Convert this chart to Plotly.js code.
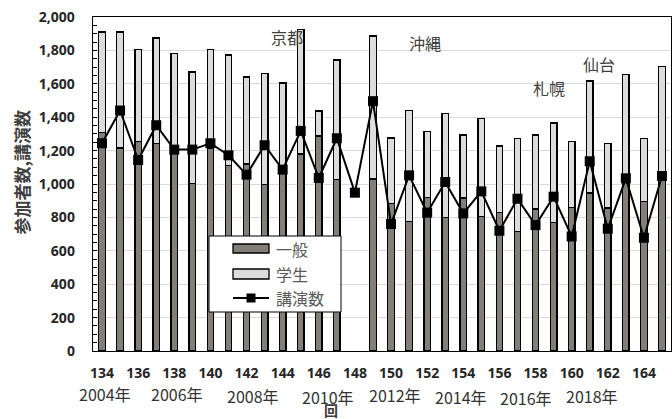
<!DOCTYPE html>
<html>
<head>
<meta charset="utf-8">
<script src="https://cdn.plot.ly/plotly-3.0.1.min.js"></script>
<style>html,body{margin:0;padding:0;background:#fff;}#chart{width:672px;height:419px;}</style>
</head>
<body>
<div id="chart"></div>
<script>
// ---- data ----
const sessions = [134,135,136,137,138,139,140,141,142,143,144,145,146,147,148,149,150,151,152,153,154,155,156,157,158,159,160,161,162,163,164,165];
const general  = [1310,1216,1254,1244,1190,1002,1214,1110,1120,996,1070,1180,1288,1028,null,1030,884,774,920,800,916,806,830,714,850,770,860,946,856,1020,896,1020];
const students = [600,694,552,630,592,668,590,662,520,664,534,744,150,714,null,856,392,666,396,624,378,588,398,560,444,596,396,670,388,634,376,682];
const lectures = [1244,1440,1144,1352,1206,1206,1244,1172,1056,1232,1086,1318,1036,1274,948,1496,760,1052,828,1012,824,956,720,912,754,924,686,1136,732,1034,678,1048];
const tickSessions = [134,136,138,140,142,144,146,148,150,152,154,156,158,160,162,164];
const yearLabels = ["2004年","2006年","2008年","2010年","2012年","2014年","2016年","2018年"];
const yearSessions = [134.17,138.17,142.37,146.5,150.2,153.85,157.45,161.15];
const venueLabels = ["京都","沖縄","札幌","仙台"];
const venueSessions = [144.23,151.87,158.77,161.5];
const venueHeights = [1882,1846,1573,1720];
const seriesNames = ["一般","学生","講演数"];
const yTitle = "参加者数,講演数";
const xTitle = "回";

// ---- layout geometry (pixels) ----
const L = 93, R = 1, T = 17, B = 68, Wd = 672, Ht = 419;
const PW = Wd - L - R, PH = Ht - T - B, PB = Ht - B;
const px = x => (x - L) / PW;
const py = y => (PB - y) / PH;
const yearShift = [-43,-43,-45,-46,-44,-46,-47,-45];

const JP = '"Noto Sans CJK JP", "Noto Sans", sans-serif';
const NUM = '"Noto Sans", "Open Sans", sans-serif';
const cGen = '#837e78', cStu = '#dcdcdc', cTxt = '#595959';

const traces = [
  {type:'bar', x:sessions, y:general, name:seriesNames[0], width:0.36,
   marker:{color:cGen, line:{color:'#000', width:1.3}}, showlegend:false, hoverinfo:'skip'},
  {type:'bar', x:sessions, y:students, name:seriesNames[1], width:0.36,
   marker:{color:cStu, line:{color:'#000', width:1.3}}, showlegend:false, hoverinfo:'skip'},
  {type:'scatter', mode:'lines+markers', x:sessions, y:lectures, name:seriesNames[2],
   line:{color:'#000', width:2}, marker:{symbol:'square', size:10, color:'#000'},
   showlegend:false, hoverinfo:'skip'}
];

const annotations = [];
venueLabels.forEach((t,i)=>annotations.push({x:venueSessions[i], y:venueHeights[i], xref:'x', yref:'y',
  text:t, showarrow:false, font:{family:JP, size:16, color:'#404040'}}));
yearLabels.forEach((t,i)=>annotations.push({x:yearSessions[i], y:0, xref:'x', yref:'paper',
  yanchor:'middle', yshift:yearShift[i], text:t, showarrow:false, borderpad:0,
  font:{family:JP, size:16, color:'#333'}}));
annotations.push({x:146.67, y:0, xref:'x', yref:'paper', yanchor:'middle', yshift:-59, borderpad:0,
  text:'<b>'+xTitle+'</b>', showarrow:false, font:{family:JP, size:14, color:'#404040'}});
annotations.push({x:0, y:py(172.5), xref:'paper', yref:'paper', xanchor:'center', yanchor:'middle',
  xshift:-(L-21), textangle:-90,
  text:'<b>'+yTitle+'</b>', showarrow:false, font:{family:JP, size:17, color:'#404040'}});

// manual legend
const shapes = [
  {type:'rect', xref:'paper', yref:'paper', x0:px(209), x1:px(341), y0:py(312), y1:py(236),
   fillcolor:'#fff', line:{color:'#000', width:1}, layer:'above'},
  {type:'rect', xref:'paper', yref:'paper', x0:px(233), x1:px(269), y0:py(253), y1:py(244),
   fillcolor:cGen, line:{color:'#000', width:1.3}, layer:'above'},
  {type:'rect', xref:'paper', yref:'paper', x0:px(233), x1:px(269), y0:py(279), y1:py(269),
   fillcolor:cStu, line:{color:'#000', width:1.3}, layer:'above'},
  {type:'line', xref:'paper', yref:'paper', x0:px(233), x1:px(269), y0:py(298), y1:py(298),
   line:{color:'#000', width:2}, layer:'above'},
  {type:'rect', xref:'paper', yref:'paper', x0:px(246.5), x1:px(255.5), y0:py(302.5), y1:py(293.5),
   fillcolor:'#000', line:{color:'#000', width:0}, layer:'above'}
];
const legY = [249, 274, 298];
seriesNames.forEach((t,i)=>annotations.push({x:px(274), y:py(legY[i]), xref:'paper', yref:'paper',
  xanchor:'left', yanchor:'middle', text:t, showarrow:false, font:{family:JP, size:16, color:cTxt}}));

const layout = {
  width:Wd, height:Ht, margin:{l:L, r:R, t:T, b:B, pad:0},
  paper_bgcolor:'#fff', plot_bgcolor:'#fff', barmode:'stack', showlegend:false,
  xaxis:{range:[133.5,165.5], tickmode:'array', tickvals:tickSessions, ticktext:tickSessions.map(String),
    showgrid:false, zeroline:false, showline:true, mirror:true, linecolor:'#000', linewidth:1.3,
    ticks:'', ticklabelstandoff:9, tickfont:{family:NUM, size:14, color:'#262626', weight:'bold'}},
  yaxis:{range:[0,2000], dtick:200, tickformat:',d', showgrid:true, gridcolor:'#d9d9d9', gridwidth:1,
    zeroline:false, showline:true, mirror:true, linecolor:'#000', linewidth:1.3,
    ticks:'inside', ticklen:4, tickcolor:'#000', tickwidth:1, ticklabelstandoff:14,
    minor:{dtick:50, ticks:'inside', ticklen:4, tickcolor:'#000', tickwidth:1, showgrid:false},
    tickfont:{family:NUM, size:14, color:'#262626', weight:'bold'}},
  annotations:annotations, shapes:shapes
};
Plotly.newPlot('chart', traces, layout, {staticPlot:true, displayModeBar:false});
</script>
</body>
</html>
